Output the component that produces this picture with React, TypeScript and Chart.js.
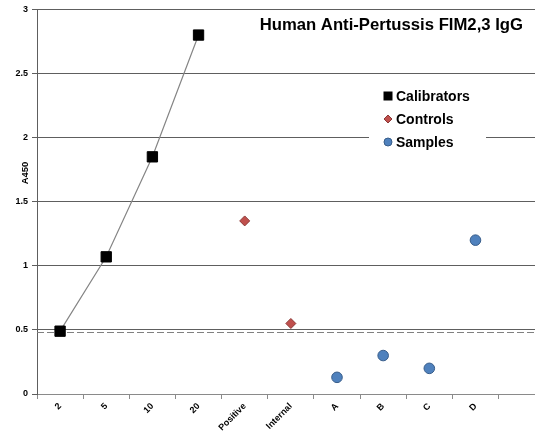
import React, { useEffect, useRef } from 'react';
import { Chart, registerables } from 'chart.js';

Chart.register(...registerables);

const categories = ['2', '5', '10', '20', 'Positive', 'Internal', 'A', 'B', 'C', 'D', ''];
const calibratorLabels = ['2', '5', '10', '20'];
const calibratorValues = [0.49, 1.07, 1.85, 2.8];
const controlLabels = ['Positive', 'Internal'];
const controlValues = [1.35, 0.55];
const sampleLabels = ['A', 'B', 'C', 'D'];
const sampleValues = [0.13, 0.3, 0.2, 1.2];
const yTicks = [0, 0.5, 1, 1.5, 2, 2.5, 3];
const cutoffValue = 0.485;
const chartTitle = 'Human Anti-Pertussis FIM2,3 IgG';
const yAxisTitle = 'A450';
const legendLabels = ['Calibrators', 'Controls', 'Samples'];

const FONT = '"Liberation Sans", Arial, sans-serif';
const GRID = '#5e5e5e';
const AXIS_X = '#8a8a8a';
const CTRL_FILL = '#C0504D';
const CTRL_BORDER = '#8C3836';
const SAMP_FILL = '#4F81BD';
const SAMP_BORDER = '#385D8A';

const decor = {
  id: 'decor',
  beforeDatasetsDraw(chart: any) {
    const { ctx, chartArea, scales } = chart;
    const y = Math.round(scales.y.getPixelForValue(cutoffValue)) + 0.5;
    ctx.save();
    ctx.strokeStyle = '#808080';
    ctx.lineWidth = 1;
    ctx.setLineDash([7, 3]);
    ctx.beginPath();
    ctx.moveTo(chartArea.left, y);
    ctx.lineTo(chartArea.right, y);
    ctx.stroke();
    ctx.restore();
  },
  afterDraw(chart: any) {
    const { ctx } = chart;
    ctx.save();
    ctx.fillStyle = '#000';
    ctx.font = `bold 16.7px ${FONT}`;
    ctx.textAlign = 'right';
    ctx.textBaseline = 'middle';
    ctx.fillText(chartTitle, 523, 25);

    ctx.fillStyle = '#fff';
    ctx.fillRect(369, 82, 117, 70);
    ctx.font = `bold 14px ${FONT}`;
    ctx.textAlign = 'left';
    const ys = [96, 119, 142];
    legendLabels.forEach((lab, i) => {
      const y = ys[i];
      const mx = 388;
      if (i === 0) {
        ctx.fillStyle = '#000';
        ctx.fillRect(mx - 4.5, y - 4.5, 9, 9);
      } else if (i === 1) {
        ctx.fillStyle = CTRL_FILL;
        ctx.strokeStyle = CTRL_BORDER;
        ctx.lineWidth = 1;
        ctx.beginPath();
        ctx.moveTo(mx, y - 4);
        ctx.lineTo(mx + 4, y);
        ctx.lineTo(mx, y + 4);
        ctx.lineTo(mx - 4, y);
        ctx.closePath();
        ctx.fill();
        ctx.stroke();
      } else {
        ctx.fillStyle = SAMP_FILL;
        ctx.strokeStyle = SAMP_BORDER;
        ctx.lineWidth = 1;
        ctx.beginPath();
        ctx.arc(mx, y, 4, 0, Math.PI * 2);
        ctx.fill();
        ctx.stroke();
      }
      ctx.fillStyle = '#000';
      ctx.fillText(lab, 396, y + 1);
    });

    ctx.translate(25, 173);
    ctx.rotate(-Math.PI / 2);
    ctx.textAlign = 'center';
    ctx.font = `bold 9.5px ${FONT}`;
    ctx.fillText(yAxisTitle, 0, 0);
    ctx.restore();
  },
};

export default function App() {
  const ref = useRef<HTMLCanvasElement | null>(null);

  useEffect(() => {
    document.body.style.margin = '0';
    const canvas = ref.current;
    if (!canvas) return;
    const chart = new Chart(canvas, {
      type: 'line',
      data: {
        labels: categories,
        datasets: [
          {
            label: legendLabels[0],
            data: calibratorLabels.map((l, i) => ({ x: l, y: calibratorValues[i] })),
            borderColor: '#858585',
            borderWidth: 1.2,
            showLine: true,
            tension: 0,
            pointStyle: 'rect',
            pointRadius: 7.3,
            pointBackgroundColor: '#000',
            pointBorderColor: '#000',
            pointBorderWidth: 1,
          },
          {
            label: legendLabels[1],
            data: controlLabels.map((l, i) => ({ x: l, y: controlValues[i] })),
            showLine: false,
            pointStyle: 'rectRot',
            pointRadius: 5,
            pointBackgroundColor: CTRL_FILL,
            pointBorderColor: CTRL_BORDER,
            pointBorderWidth: 1,
            backgroundColor: CTRL_FILL,
            borderColor: CTRL_BORDER,
          },
          {
            label: legendLabels[2],
            data: sampleLabels.map((l, i) => ({ x: l, y: sampleValues[i] })),
            showLine: false,
            pointStyle: 'circle',
            pointRadius: 5.3,
            pointBackgroundColor: SAMP_FILL,
            pointBorderColor: SAMP_BORDER,
            pointBorderWidth: 1,
            backgroundColor: SAMP_FILL,
            borderColor: SAMP_BORDER,
          },
        ],
      },
      options: {
        responsive: false,
        animation: false,
        layout: { padding: { left: 0, top: 9, right: 2, bottom: 0 } },
        plugins: {
          legend: { display: false },
          tooltip: { enabled: false },
          title: { display: false },
        },
        scales: {
          x: {
            type: 'category',
            offset: true,
            grid: {
              display: true,
              offset: true,
              drawOnChartArea: false,
              drawTicks: true,
              tickLength: 5,
              color: AXIS_X,
            },
            border: { display: true, color: AXIS_X, width: 1 },
            ticks: {
              autoSkip: false,
              minRotation: 45,
              maxRotation: 45,
              color: '#000',
              padding: 2,
              font: { family: FONT, size: 9, weight: 'bold' },
            },
            afterFit(scale: any) {
              scale.height = 39;
            },
          },
          y: {
            min: 0,
            max: 3,
            grid: { color: GRID, tickLength: 5, lineWidth: 1 },
            border: { display: true, color: GRID, width: 1 },
            ticks: {
              color: '#000',
              padding: 4,
              font: { family: FONT, size: 9, weight: 'bold' },
              callback: (v: any) => String(v),
            },
            afterBuildTicks(scale: any) {
              scale.ticks = yTicks.map((v) => ({ value: v }));
            },
            afterFit(scale: any) {
              scale.width = 37;
            },
          },
        },
      },
      plugins: [decor],
    });
    return () => chart.destroy();
  }, []);

  return (
    <div
      style={{
        position: 'fixed',
        left: 0,
        top: 0,
        width: 535,
        height: 433,
        overflow: 'hidden',
        background: '#fff',
      }}
    >
      <canvas ref={ref} width={553} height={433} style={{ display: 'block' }} />
    </div>
  );
}
